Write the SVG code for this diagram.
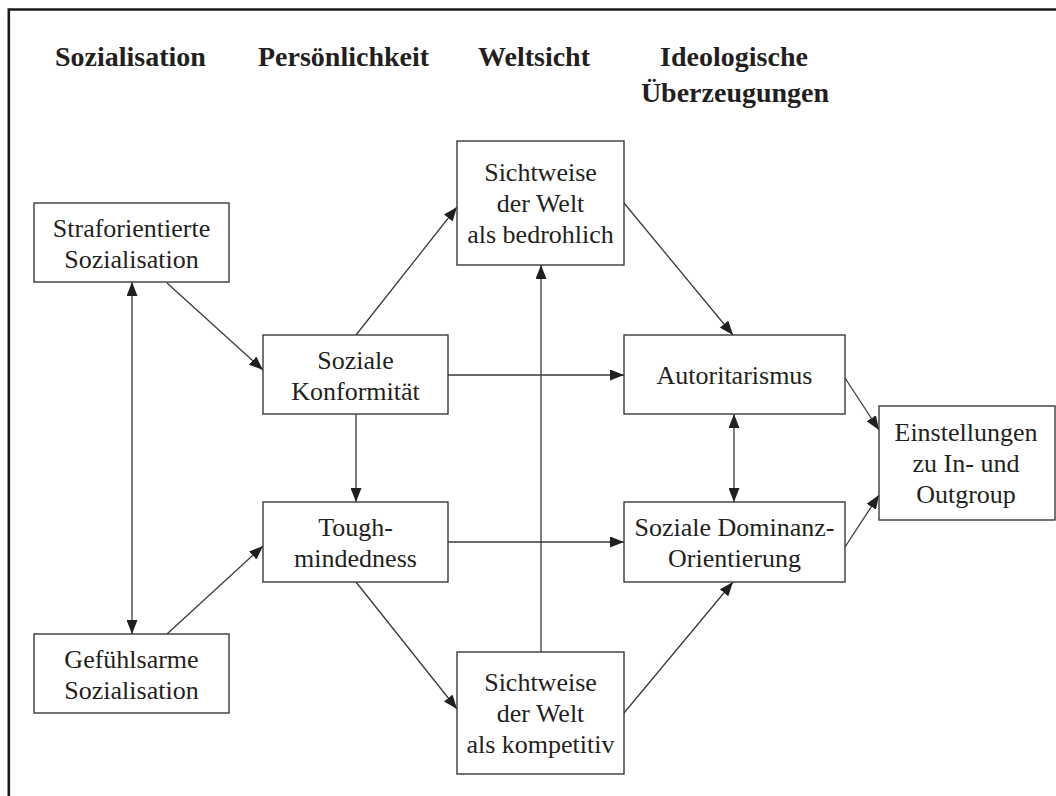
<svg xmlns="http://www.w3.org/2000/svg" width="1056" height="796" viewBox="0 0 1056 796">
  <style>
    .frame { fill: none; stroke: #1a1a1a; stroke-width: 2.6; }
    .box { fill: #ffffff; stroke: #3a3a3a; stroke-width: 1.4; }
    .lbl { font-family: "Liberation Serif", "Times New Roman", serif; font-size: 26px; fill: #231f20; text-anchor: middle; }
    .head { font-family: "Liberation Serif", "Times New Roman", serif; font-size: 28px; font-weight: bold; fill: #231f20; }
    .edge { fill: none; stroke: #3a3a3a; stroke-width: 1.3; }
  </style>
  <defs>
    <marker id="arrow" markerUnits="userSpaceOnUse" markerWidth="14" markerHeight="11" refX="14" refY="5.5" orient="auto-start-reverse">
      <path d="M0,0 L14,5.5 L0,11 z" fill="#231f20"/>
    </marker>
  </defs>

  <rect width="1056" height="796" fill="#ffffff"/>

  <!-- open frame: top and left edges only -->
  <path class="frame" d="M8.8,796 L8.8,9.5 L1056,9.5"/>

  <!-- column headings -->
  <g id="headings">
    <text class="head" x="55" y="66">Sozialisation</text>
    <text class="head" x="258" y="66">Persönlichkeit</text>
    <text class="head" x="478" y="66">Weltsicht</text>
    <text class="head" x="734" y="66" text-anchor="middle">Ideologische</text>
    <text class="head" x="735" y="102" text-anchor="middle">Überzeugungen</text>
  </g>

  <!-- connectors -->
  <g id="connectors">
    <line class="edge" x1="132" y1="282" x2="132" y2="634" marker-start="url(#arrow)" marker-end="url(#arrow)"/>
    <line class="edge" x1="167" y1="283" x2="263" y2="370" marker-end="url(#arrow)"/>
    <line class="edge" x1="167" y1="634" x2="263" y2="546" marker-end="url(#arrow)"/>
    <line class="edge" x1="356" y1="335" x2="457" y2="207" marker-end="url(#arrow)"/>
    <line class="edge" x1="448" y1="375" x2="624" y2="375" marker-end="url(#arrow)"/>
    <line class="edge" x1="356" y1="414" x2="356" y2="502" marker-end="url(#arrow)"/>
    <line class="edge" x1="448" y1="542" x2="624" y2="542" marker-end="url(#arrow)"/>
    <line class="edge" x1="356" y1="582" x2="457" y2="709" marker-end="url(#arrow)"/>
    <line class="edge" x1="541" y1="652" x2="541" y2="265" marker-end="url(#arrow)"/>
    <line class="edge" x1="624" y1="713" x2="733" y2="582" marker-end="url(#arrow)"/>
    <line class="edge" x1="624" y1="203" x2="733" y2="335" marker-end="url(#arrow)"/>
    <line class="edge" x1="734" y1="414" x2="734" y2="502" marker-start="url(#arrow)" marker-end="url(#arrow)"/>
    <line class="edge" x1="845" y1="378" x2="879" y2="430" marker-end="url(#arrow)"/>
    <line class="edge" x1="845" y1="547" x2="879" y2="495" marker-end="url(#arrow)"/>
  </g>

  <!-- nodes -->
  <g id="strafsozialisation">
    <rect class="box" x="34" y="203" width="195" height="79"/>
    <text class="lbl" x="131.5" y="236.5">Straforientierte</text>
    <text class="lbl" x="131.5" y="267.5">Sozialisation</text>
  </g>
  <g id="gefuehlsarm">
    <rect class="box" x="34" y="634" width="195" height="79"/>
    <text class="lbl" x="131.5" y="667.5">Gefühlsarme</text>
    <text class="lbl" x="131.5" y="698.5">Sozialisation</text>
  </g>
  <g id="konformitaet">
    <rect class="box" x="263" y="335" width="185" height="79"/>
    <text class="lbl" x="355.5" y="368.5">Soziale</text>
    <text class="lbl" x="355.5" y="399.5">Konformität</text>
  </g>
  <g id="toughmindedness">
    <rect class="box" x="263" y="502" width="185" height="80"/>
    <text class="lbl" x="355.5" y="536">Tough-</text>
    <text class="lbl" x="355.5" y="567">mindedness</text>
  </g>
  <g id="welt-bedrohlich">
    <rect class="box" x="457" y="141" width="167" height="124"/>
    <text class="lbl" x="540.5" y="181">Sichtweise</text>
    <text class="lbl" x="540.5" y="212">der Welt</text>
    <text class="lbl" x="540.5" y="243">als bedrohlich</text>
  </g>
  <g id="welt-kompetitiv">
    <rect class="box" x="457" y="652" width="167" height="122"/>
    <text class="lbl" x="540.5" y="691">Sichtweise</text>
    <text class="lbl" x="540.5" y="722">der Welt</text>
    <text class="lbl" x="540.5" y="753">als kompetitiv</text>
  </g>
  <g id="autoritarismus">
    <rect class="box" x="624" y="335" width="221" height="79"/>
    <text class="lbl" x="734.5" y="384">Autoritarismus</text>
  </g>
  <g id="dominanz">
    <rect class="box" x="624" y="502" width="221" height="80"/>
    <text class="lbl" x="734.5" y="536">Soziale Dominanz-</text>
    <text class="lbl" x="734.5" y="567">Orientierung</text>
  </g>
  <g id="einstellungen">
    <rect class="box" x="879" y="406" width="176" height="114"/>
    <text class="lbl" x="966" y="441">Einstellungen</text>
    <text class="lbl" x="966" y="472">zu In- und</text>
    <text class="lbl" x="966" y="503">Outgroup</text>
  </g>
</svg>
